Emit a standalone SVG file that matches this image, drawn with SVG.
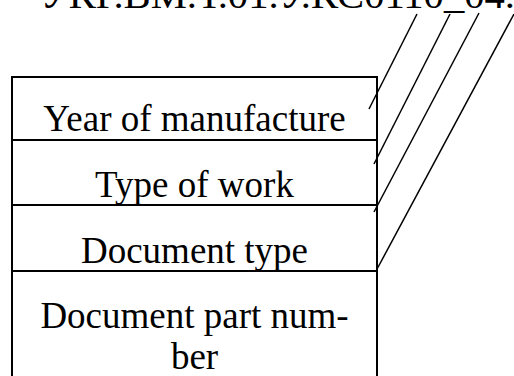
<svg xmlns="http://www.w3.org/2000/svg" width="514" height="376" viewBox="0 0 514 376">
<style>
text{font-family:'Liberation Serif','Times New Roman',serif;font-size:37px;fill:#000}
.t{text-anchor:middle}
.b{fill:none;stroke:#000;stroke-width:2}
.l{stroke:#000;stroke-width:1.5;fill:none}
</style>
<rect width="514" height="376" fill="#fff"/>
<text x="40" y="8" textLength="475" lengthAdjust="spacingAndGlyphs">УКР.ВМ.Т.01.У.КС0110_04.</text>
<g id="field-year">
<rect class="b" x="12" y="77" width="365" height="63"/>
<text class="t" x="194.5" y="131">Year of manufacture</text>
</g>
<g id="field-work">
<rect class="b" x="12" y="140" width="365" height="65"/>
<text class="t" x="194.5" y="197">Type of work</text>
</g>
<g id="field-doctype">
<rect class="b" x="12" y="205" width="365" height="66"/>
<text class="t" x="194.5" y="263">Document type</text>
</g>
<g id="field-part">
<rect class="b" x="12" y="271" width="365" height="120"/>
<text class="t" x="194.5" y="328">Document part num-</text>
<text class="t" x="194.5" y="369">ber</text>
</g>
<g id="connectors">
<line class="l" x1="417" y1="14" x2="369" y2="109"/>
<line class="l" x1="450" y1="14" x2="374" y2="164"/>
<line class="l" x1="479" y1="13" x2="374" y2="212"/>
<line class="l" x1="514" y1="14" x2="376" y2="271"/>
</g>
</svg>
